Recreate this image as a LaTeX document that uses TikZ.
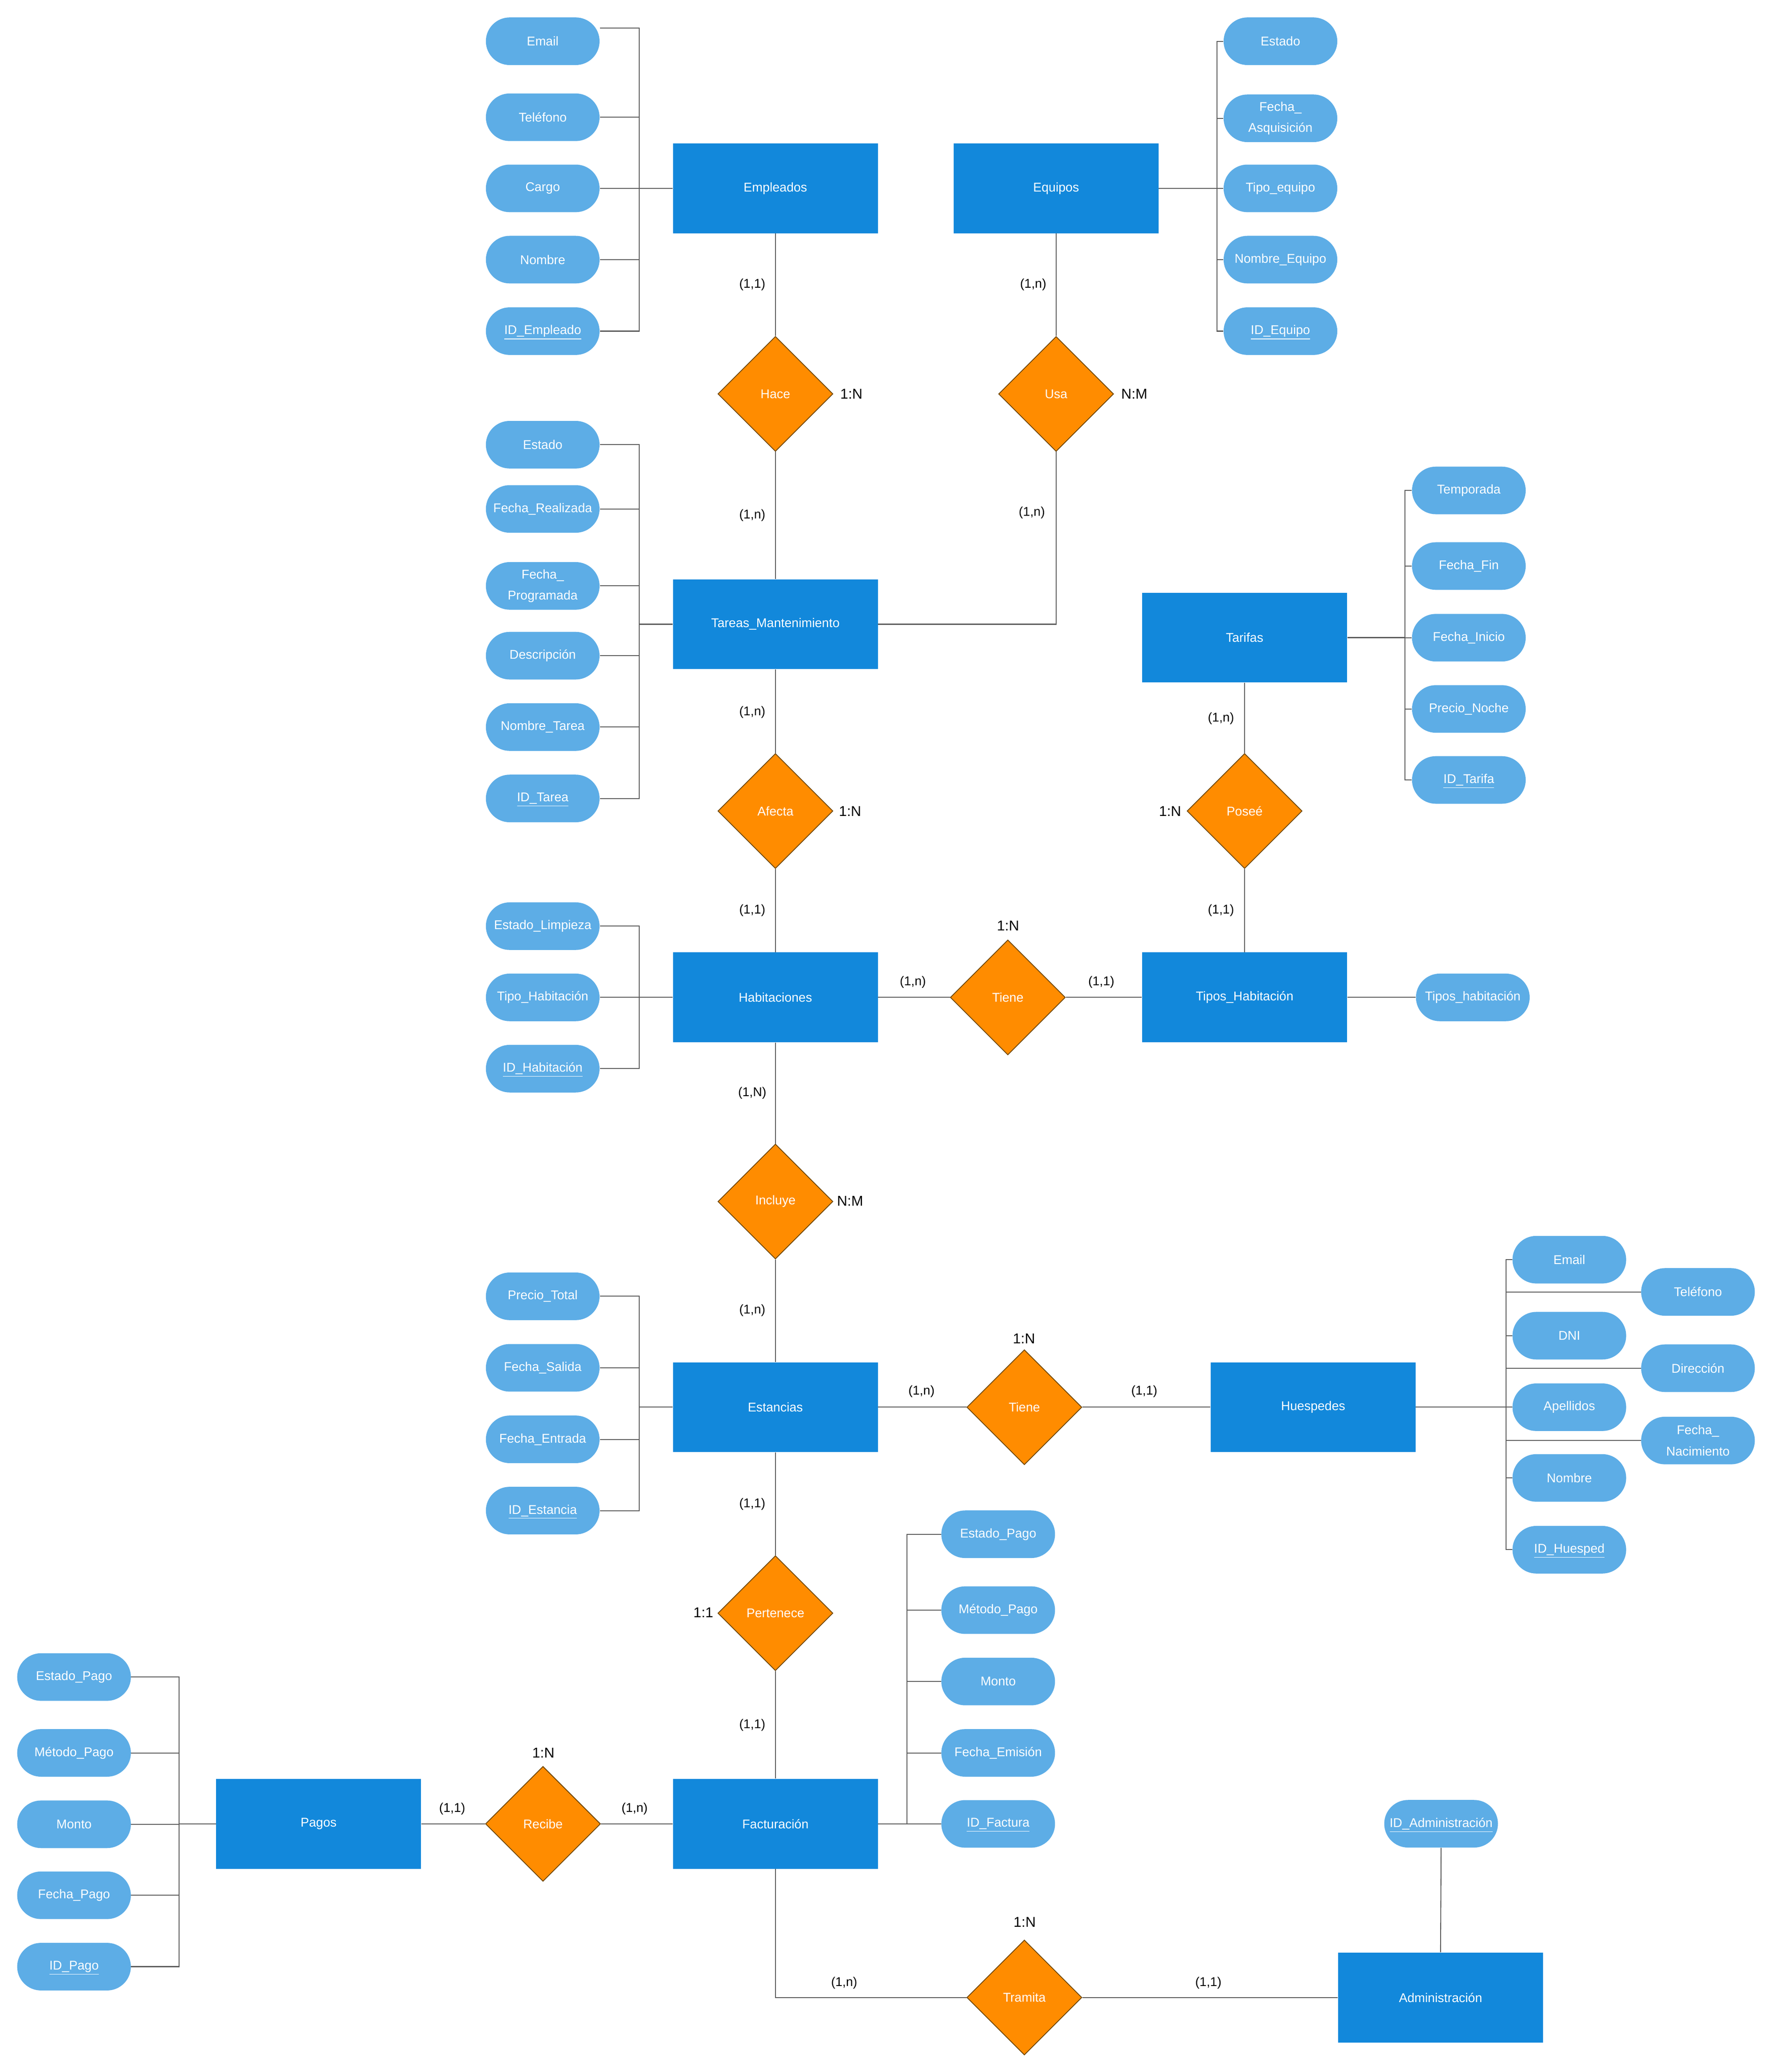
\documentclass[tikz,border=0pt]{standalone}
\usepackage{fontspec}
\setmainfont{Liberation Sans}
\usetikzlibrary{shapes.geometric}
\definecolor{entblue}{HTML}{1288DB}
\definecolor{attrblue}{HTML}{5DADE6}
\definecolor{relorange}{HTML}{FF8C00}
\definecolor{reledge}{HTML}{6B4300}
\definecolor{linegray}{HTML}{5A5A5A}
\newcommand{\uid}[1]{\setbox0\hbox{#1}\raisebox{0pt}[\ht0][\dp0]{\underline{#1}}}
\begin{document}
\begin{tikzpicture}[x=1pt,y=-1pt,
  ent/.style={rectangle, fill=entblue, minimum width=155pt, minimum height=68pt, inner sep=0pt, text=white, font=\fontsize{9.6}{12}\selectfont},
  attr/.style={rectangle, rounded corners=18pt, fill=attrblue, minimum width=86pt, minimum height=36pt, inner sep=0pt, text=white, align=center, font=\fontsize{9.6}{16}\selectfont},
  rel/.style={diamond, fill=relorange, draw=reledge, line width=0.6pt, minimum width=87pt, minimum height=87pt, inner sep=0pt, text=white, font=\fontsize{9.6}{12}\selectfont},
  card/.style={inner sep=0pt, font=\fontsize{9.6}{12}\selectfont},
  ratio/.style={inner sep=0pt, font=\fontsize{10.8}{13}\selectfont},
  conn/.style={draw=linegray, line width=0.7pt},
]
\useasboundingbox (0,0) rectangle (1340.3,1567.4);

% ---------- entities ----------
\node[ent] (emp) at (586.5,142.5) {Empleados};
\node[ent] (equ) at (798.8,142.5) {Equipos};
\node[ent] (tar) at (586.5,472.2) {Tareas\_Mantenimiento};
\node[ent] (tfs) at (941.4,482.3) {Tarifas};
\node[ent] (hab) at (586.5,754.5) {Habitaciones};
\node[ent] (tip) at (941.4,754.5) {Tipos\_Habitación};
\node[ent] (est) at (586.5,1064.5) {Estancias};
\node[ent] (hue) at (993.2,1064.5) {Huespedes};
\node[ent] (pag) at (241,1379.7) {Pagos};
\node[ent] (fac) at (586.5,1379.7) {Facturación};
\node[ent] (adm) at (1089.6,1511) {Administración};

% ---------- relationships ----------
\node[rel] (hace) at (586.5,298) {Hace};
\node[rel] (usa) at (798.8,298) {Usa};
\node[rel] (afe) at (586.5,613.5) {Afecta};
\node[rel] (pos) at (941.4,613.5) {Poseé};
\node[rel] (tie1) at (762.3,754.5) {Tiene};
\node[rel] (inc) at (586.5,908.9) {Incluye};
\node[rel] (tie2) at (774.8,1064.5) {Tiene};
\node[rel] (per) at (586.5,1220.3) {Pertenece};
\node[rel] (rec) at (410.7,1379.7) {Recibe};
\node[rel] (tra) at (774.8,1511) {Tramita};

% ---------- attributes: Empleados ----------
\node[attr] (em1) at (410.5,31.2) {Email};
\node[attr] (em2) at (410.5,88.7) {Teléfono};
\node[attr] (em3) at (410.5,142.5) {Cargo};
\node[attr] (em4) at (410.5,196.4) {Nombre};
\node[attr] (em5) at (410.5,250.5) {\uid{ID\_Empleado}};
% ---------- attributes: Equipos ----------
\node[attr] (eq1) at (968.5,31.2) {Estado};
\node[attr] (eq2) at (968.5,89.5) {Fecha\_\\Asquisición};
\node[attr] (eq3) at (968.5,142.5) {Tipo\_equipo};
\node[attr] (eq4) at (968.5,196.4) {Nombre\_Equipo};
\node[attr] (eq5) at (968.5,250.5) {\uid{ID\_Equipo}};
% ---------- attributes: Tareas ----------
\node[attr] (ta1) at (410.5,336.4) {Estado};
\node[attr] (ta2) at (410.5,385) {Fecha\_Realizada};
\node[attr] (ta3) at (410.5,443.2) {Fecha\_\\Programada};
\node[attr] (ta4) at (410.5,496) {Descripción};
\node[attr] (ta5) at (410.5,550) {Nombre\_Tarea};
\node[attr] (ta6) at (410.5,604) {\uid{ID\_Tarea}};
% ---------- attributes: Tarifas ----------
\node[attr] (tf1) at (1111,371) {Temporada};
\node[attr] (tf2) at (1111,428.2) {Fecha\_Fin};
\node[attr] (tf3) at (1111,482.4) {Fecha\_Inicio};
\node[attr] (tf4) at (1111,536.3) {Precio\_Noche};
\node[attr] (tf5) at (1111,590) {\uid{ID\_Tarifa}};
% ---------- attributes: Habitaciones ----------
\node[attr] (ha1) at (410.5,700.6) {Estado\_Limpieza};
\node[attr] (ha2) at (410.5,754.5) {Tipo\_Habitación};
\node[attr] (ha3) at (410.5,808.4) {\uid{ID\_Habitación}};
% ---------- attribute: Tipos_Habitacion ----------
\node[attr] (th1) at (1114,754.5) {Tipos\_habitación};
% ---------- attributes: Estancias ----------
\node[attr] (es1) at (410.5,980.6) {Precio\_Total};
\node[attr] (es2) at (410.5,1034.7) {Fecha\_Salida};
\node[attr] (es3) at (410.5,1088.8) {Fecha\_Entrada};
\node[attr] (es4) at (410.5,1142.7) {\uid{ID\_Estancia}};
% ---------- attributes: Huespedes ----------
\node[attr] (hu1) at (1187,952.9) {Email};
\node[attr] (hu2) at (1187,1010.4) {DNI};
\node[attr] (hu3) at (1187,1064.5) {Apellidos};
\node[attr] (hu4) at (1187,1118) {Nombre};
\node[attr] (hu5) at (1187,1172.3) {\uid{ID\_Huesped}};
\node[attr] (hr1) at (1284.3,977.3) {Teléfono};
\node[attr] (hr2) at (1284.3,1035) {Dirección};
\node[attr] (hr3) at (1284.3,1089.7) {Fecha\_\\Nacimiento};
% ---------- attributes: Facturacion ----------
\node[attr] (fa1) at (755,1160.6) {Estado\_Pago};
\node[attr] (fa2) at (755,1218) {Método\_Pago};
\node[attr] (fa3) at (755,1272) {Monto};
\node[attr] (fa4) at (755,1326) {Fecha\_Emisión};
\node[attr] (fa5) at (755,1379.7) {\uid{ID\_Factura}};
% ---------- attributes: Pagos ----------
\node[attr] (pa1) at (56,1268.6) {Estado\_Pago};
\node[attr] (pa2) at (56,1326) {Método\_Pago};
\node[attr] (pa3) at (56,1380) {Monto};
\node[attr] (pa4) at (56,1433.7) {Fecha\_Pago};
\node[attr] (pa5) at (56,1487.7) {\uid{ID\_Pago}};
% ---------- attribute: Administracion ----------
\node[attr] (ad1) at (1090,1379.6) {\uid{ID\_Administración}};

% ---------- attribute buses ----------
\coordinate (bEmp) at (483.5,142.5);
\coordinate (bEqu) at (920.5,142.5);
\coordinate (bTar) at (483.5,472.2);
\coordinate (bTfs) at (1062.6,482.3);
\coordinate (bHab) at (483.5,754.5);
\coordinate (bEst) at (483.5,1064.5);
\coordinate (bHue) at (1139,1064.5);
\coordinate (bFac) at (686,1379.7);
\coordinate (bPag) at (135.5,1379.7);

% Empleados
\draw[conn] (emp.west) -- (bEmp);
\draw[conn] ([yshift=10pt]em1.east) -- ([yshift=10pt]em1.east -| bEmp) -- (em5.east -| bEmp) -- (em5.east);
\foreach \a in {em2,em3,em4} \draw[conn] (\a.east) -- (\a.east -| bEmp);
% Equipos
\draw[conn] (equ.east) -- (bEqu);
\draw[conn] (eq1.west) -- (eq1.west -| bEqu) -- (eq5.west -| bEqu) -- (eq5.west);
\foreach \a in {eq2,eq3,eq4} \draw[conn] (\a.west) -- (\a.west -| bEqu);
% Tareas
\draw[conn] (tar.west) -- (bTar);
\draw[conn] (ta1.east) -- (ta1.east -| bTar) -- (ta6.east -| bTar) -- (ta6.east);
\foreach \a in {ta2,ta3,ta4,ta5} \draw[conn] (\a.east) -- (\a.east -| bTar);
% Tarifas
\draw[conn] (tfs.east) -- (bTfs);
\draw[conn] (tf1.west) -- (tf1.west -| bTfs) -- (tf5.west -| bTfs) -- (tf5.west);
\foreach \a in {tf2,tf3,tf4} \draw[conn] (\a.west) -- (\a.west -| bTfs);
% Habitaciones
\draw[conn] (hab.west) -- (bHab);
\draw[conn] (ha1.east) -- (ha1.east -| bHab) -- (ha3.east -| bHab) -- (ha3.east);
\draw[conn] (ha2.east) -- (ha2.east -| bHab);
% Tipos_Habitacion
\draw[conn] (tip.east) -- (th1.west);
% Estancias
\draw[conn] (est.west) -- (bEst);
\draw[conn] (es1.east) -- (es1.east -| bEst) -- (es4.east -| bEst) -- (es4.east);
\foreach \a in {es2,es3} \draw[conn] (\a.east) -- (\a.east -| bEst);
% Huespedes
\draw[conn] (hue.east) -- (bHue);
\draw[conn] (hu1.west) -- (hu1.west -| bHue) -- (hu5.west -| bHue) -- (hu5.west);
\foreach \a in {hu2,hu3,hu4} \draw[conn] (\a.west) -- (\a.west -| bHue);
\foreach \a in {hr1,hr2,hr3} \draw[conn] (\a.west) -- (\a.west -| bHue);
% Facturacion
\draw[conn] (fac.east) -- (bFac);
\draw[conn] (fa1.west) -- (fa1.west -| bFac) -- (fa5.west -| bFac) -- (fa5.west);
\foreach \a in {fa2,fa3,fa4} \draw[conn] (\a.west) -- (\a.west -| bFac);
% Pagos
\draw[conn] (pag.west) -- (bPag);
\draw[conn] (pa1.east) -- (pa1.east -| bPag) -- (pa5.east -| bPag) -- (pa5.east);
\foreach \a in {pa2,pa3,pa4} \draw[conn] (\a.east) -- (\a.east -| bPag);
% Administracion
\draw[conn] (ad1.south) -- (adm.north);

% ---------- relationship connectors ----------
\draw[conn] (emp.south) -- (hace.north);
\draw[conn] (hace.south) -- (tar.north);
\draw[conn] (equ.south) -- (usa.north);
\draw[conn] (usa.south) |- (tar.east);
\draw[conn] (tar.south) -- (afe.north);
\draw[conn] (afe.south) -- (hab.north);
\draw[conn] (tfs.south) -- (pos.north);
\draw[conn] (pos.south) -- (tip.north);
\draw[conn] (hab.east) -- (tie1.west);
\draw[conn] (tie1.east) -- (tip.west);
\draw[conn] (hab.south) -- (inc.north);
\draw[conn] (inc.south) -- (est.north);
\draw[conn] (est.east) -- (tie2.west);
\draw[conn] (tie2.east) -- (hue.west);
\draw[conn] (est.south) -- (per.north);
\draw[conn] (per.south) -- (fac.north);
\draw[conn] (pag.east) -- (rec.west);
\draw[conn] (rec.east) -- (fac.west);
\draw[conn] (fac.south) |- (tra.west);
\draw[conn] (tra.east) -- (adm.west);

% ---------- cardinality labels ----------
\node[card] (l1) at (569,215.5) {(1,1)};
\node[card] (l2) at (569,390) {(1,n)};
\node[card] (l3) at (781.5,215.5) {(1,n)};
\node[card] (l4) at (780.5,388) {(1,n)};
\node[card] (l5) at (569,538.8) {(1,n)};
\node[card] (l6) at (569,688.7) {(1,1)};
\node[card] (l7) at (923.5,543.4) {(1,n)};
\node[card] (l8) at (923.5,688.7) {(1,1)};
\node[card] (l9) at (690.5,742.8) {(1,n)};
\node[card] (l10) at (833,742.8) {(1,1)};
\node[card] (l11) at (569,827) {(1,N)};
\node[card] (l12) at (569,991.3) {(1,n)};
\node[card] (l13) at (697,1052.6) {(1,n)};
\node[card] (l14) at (865.5,1052.6) {(1,1)};
\node[card] (l15) at (569,1138) {(1,1)};
\node[card] (l16) at (569,1305) {(1,1)};
\node[card] (l17) at (342,1368.2) {(1,1)};
\node[card] (l18) at (480,1368.2) {(1,n)};
\node[card] (l19) at (638.5,1500) {(1,n)};
\node[card] (l20) at (914,1500) {(1,1)};

% ---------- ratio labels ----------
\node[ratio] (r1) at (644,298) {1:N};
\node[ratio] (r2) at (858,298) {N:M};
\node[ratio] (r3) at (643,613.6) {1:N};
\node[ratio] (r4) at (885,613.6) {1:N};
\node[ratio] (r5) at (762.5,700.3) {1:N};
\node[ratio] (r6) at (643,908.5) {N:M};
\node[ratio] (r7) at (774.5,1012.5) {1:N};
\node[ratio] (r8) at (532,1219.9) {1:1};
\node[ratio] (r9) at (411,1326) {1:N};
\node[ratio] (r10) at (775,1453.9) {1:N};
\end{tikzpicture}
\end{document}
